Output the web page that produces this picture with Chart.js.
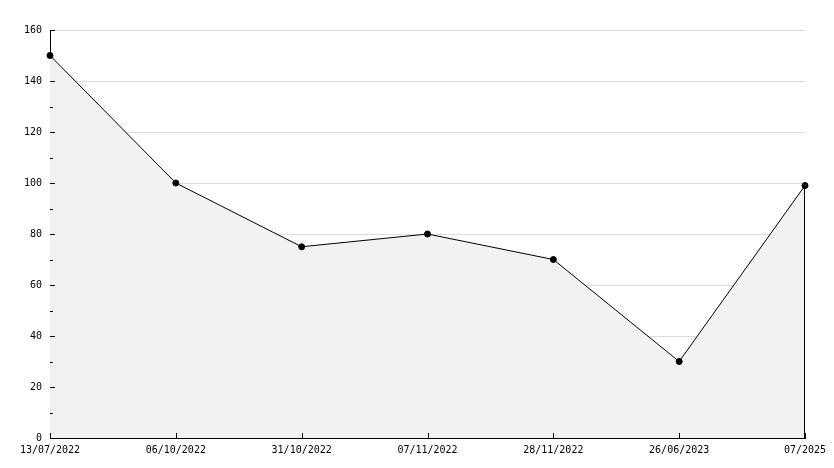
<!DOCTYPE html>
<html>
<head>
<meta charset="utf-8">
<style>
  html, body { margin: 0; padding: 0; background: #fff; }
  canvas { display: block; }
</style>
<script src="https://cdn.jsdelivr.net/npm/chart.js@4/dist/chart.umd.min.js"></script>
</head>
<body>
<canvas id="chart" width="834" height="468"></canvas>
<script>
const labels = ['13/07/2022', '06/10/2022', '31/10/2022', '07/11/2022', '28/11/2022', '26/06/2023', '07/2025'];
const values = [150, 100, 75, 80, 70, 30, 99];
const yMax = 160;
const yStep = 20;

// inward tick marks, plus the closing edge of the filled area
const tickPlugin = {
  id: 'ticks',
  afterDatasetsDraw(chart) {
    const c = chart.ctx;
    const x = chart.scales.x;
    const y = chart.scales.y;
    const area = chart.chartArea;
    c.save();
    c.strokeStyle = '#000';
    c.lineWidth = 1;
    c.beginPath();
    for (let v = 0; v <= yMax; v += yStep / 2) {
      const py = Math.round(y.getPixelForValue(v)) + 0.5;
      const len = v % yStep === 0 ? 5 : 3;
      c.moveTo(area.left, py);
      c.lineTo(area.left + len, py);
    }
    labels.forEach((l, i) => {
      const px = Math.round(x.getPixelForValue(i)) + 0.5;
      c.moveTo(px, area.bottom);
      c.lineTo(px, area.bottom - 5);
    });
    const last = chart.getDatasetMeta(0).data[values.length - 1];
    const ex = Math.round(last.x) - 0.5;
    c.moveTo(ex, last.y);
    c.lineTo(ex, area.bottom);
    c.stroke();
    c.restore();
  }
};

new Chart(document.getElementById('chart'), {
  type: 'line',
  data: {
    labels: labels,
    datasets: [{
      data: values,
      borderColor: '#000',
      borderWidth: 1,
      backgroundColor: '#f2f2f2',
      fill: 'origin',
      tension: 0,
      pointRadius: 3,
      pointHoverRadius: 3,
      pointBackgroundColor: '#000',
      pointBorderColor: '#000',
      pointBorderWidth: 1
    }]
  },
  options: {
    responsive: false,
    animation: false,
    devicePixelRatio: 1,
    layout: { padding: { top: 30, right: 29, left: 0, bottom: 0 } },
    plugins: {
      legend: { display: false },
      tooltip: { enabled: false }
    },
    scales: {
      x: {
        offset: false,
        grid: { display: false, drawTicks: false },
        border: { color: '#000', width: 1 },
        ticks: {
          color: '#000',
          font: { family: 'DejaVu Sans Mono', size: 10 },
          padding: 6,
          maxRotation: 0,
          autoSkip: false
        },
        afterFit(s) { s.height = 30; }
      },
      y: {
        min: 0,
        max: yMax,
        grid: { color: '#dddddd', drawTicks: false },
        border: { color: '#000', width: 1 },
        ticks: {
          stepSize: yStep,
          color: '#000',
          font: { family: 'DejaVu Sans Mono', size: 10 },
          padding: 8
        },
        afterFit(s) { s.width = 50; }
      }
    }
  },
  plugins: [tickPlugin]
});
</script>
</body>
</html>
